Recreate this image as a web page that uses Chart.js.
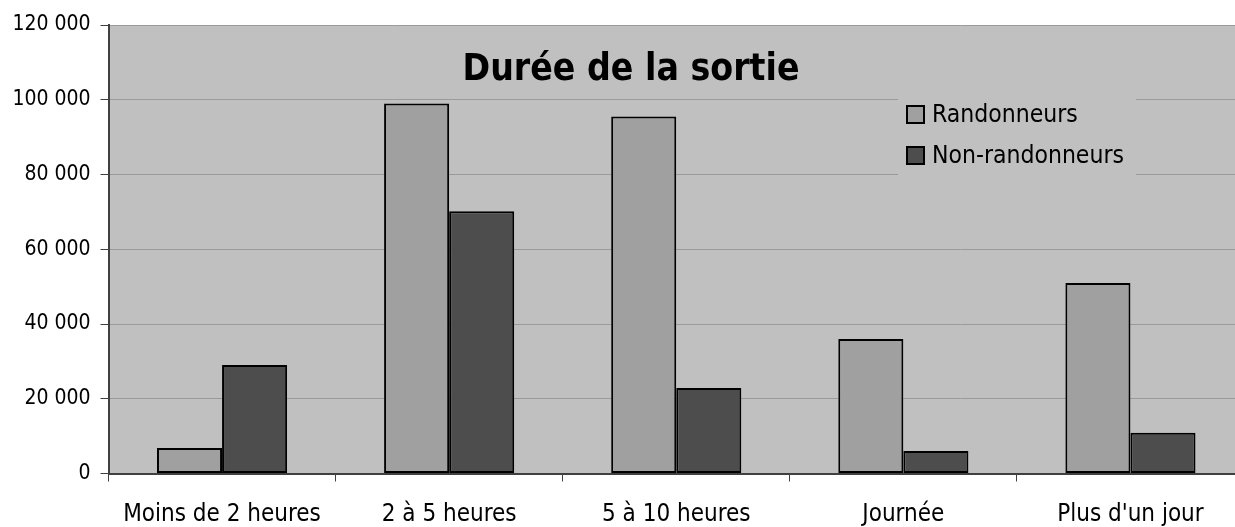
<!DOCTYPE html>
<html>
<head>
<meta charset="utf-8">
<script src="https://cdn.jsdelivr.net/npm/chart.js@4"></script>
<style>
  html, body { margin: 0; padding: 0; background: #fff; overflow: hidden; }
  #wrap { position: absolute; left: 0; top: 0; width: 1244px; height: 527px; }
</style>
</head>
<body>
<div id="wrap"><canvas id="chart" width="1244" height="527"></canvas></div>
<script>
// Data
var categories = ['Moins de 2 heures', '2 à 5 heures', '5 à 10 heures', 'Journée', "Plus d'un jour"];
var randonneurs = [6800, 99000, 95500, 36000, 51000];
var nonRandonneurs = [29000, 70200, 22900, 6000, 10900];
var yTicks = [0, 20000, 40000, 60000, 80000, 100000, 120000];
var chartTitle = 'Durée de la sortie';

var FONT = "'DejaVu Sans Condensed', 'DejaVu Sans', sans-serif";

function formatThousands(v) {
    return String(v).replace(/\B(?=(\d{3})+(?!\d))/g, ' ');
}

// grey plot background
var plotBg = {
    id: 'plotBg',
    beforeDraw: function(chart) {
        var a = chart.chartArea, ctx = chart.ctx;
        ctx.save();
        ctx.fillStyle = '#c0c0c0';
        ctx.fillRect(a.left, a.top, a.right - a.left, a.bottom - a.top);
        ctx.restore();
    }
};

// title and boxed legend drawn inside the plot area
var overlay = {
    id: 'overlay',
    afterDraw: function(chart) {
        var ctx = chart.ctx;
        ctx.save();
        ctx.fillStyle = '#000';
        ctx.font = 'bold 37px ' + FONT;
        ctx.textAlign = 'center';
        ctx.textBaseline = 'alphabetic';
        ctx.fillText(chartTitle, 631, 80);

        // legend box
        ctx.fillStyle = '#c0c0c0';
        ctx.fillRect(898, 90, 238, 95);
        ctx.font = '24.5px ' + FONT;
        ctx.textAlign = 'left';
        ctx.textBaseline = 'middle';
        var rows = [115, 156];
        chart.data.datasets.forEach(function(ds, i) {
            var y = rows[i];
            ctx.fillStyle = ds.backgroundColor;
            ctx.fillRect(907, y - 9, 17, 17);
            ctx.lineWidth = 2;
            ctx.strokeStyle = '#000';
            ctx.strokeRect(907, y - 9, 17, 17);
            ctx.fillStyle = '#000';
            ctx.fillText(ds.label, 932, y + 1);
        });
        ctx.restore();
    }
};

new Chart(document.getElementById('chart').getContext('2d'), {
    type: 'bar',
    data: {
        labels: categories,
        datasets: [{
            label: 'Randonneurs',
            data: randonneurs,
            backgroundColor: '#a0a0a0',
            borderColor: '#000',
            borderWidth: 2,
            borderSkipped: false
        }, {
            label: 'Non-randonneurs',
            data: nonRandonneurs,
            backgroundColor: '#4d4d4d',
            borderColor: '#000',
            borderWidth: 2,
            borderSkipped: false
        }]
    },
    options: {
        responsive: false,
        animation: false,
        events: [],
        layout: { padding: { top: 25, left: 0, right: 0, bottom: 0 } },
        categoryPercentage: 0.573,
        barPercentage: 1,
        plugins: {
            legend: { display: false },
            title: { display: false },
            tooltip: { enabled: false }
        },
        scales: {
            x: {
                offset: true,
                grid: {
                    offset: true,
                    drawOnChartArea: false,
                    tickLength: 8,
                    tickColor: '#404040'
                },
                border: { color: '#404040', width: 2 },
                ticks: {
                    color: '#000',
                    padding: 19,
                    maxRotation: 0,
                    font: { family: FONT, size: 24 }
                },
                afterFit: function(s) { s.height = 53.5; }
            },
            y: {
                min: 0,
                max: 120000,
                afterBuildTicks: function(s) {
                    s.ticks = yTicks.map(function(v) { return { value: v }; });
                },
                grid: {
                    color: '#9a9a9a',
                    tickLength: 8,
                    tickColor: '#404040'
                },
                border: { color: '#404040', width: 2 },
                ticks: {
                    color: '#000',
                    padding: 10,
                    font: { family: FONT, size: 21 },
                    callback: function(v) { return formatThousands(v); }
                },
                afterFit: function(s) { s.width = 108.5; }
            }
        }
    },
    plugins: [plotBg, overlay]
});
</script>
</body>
</html>
